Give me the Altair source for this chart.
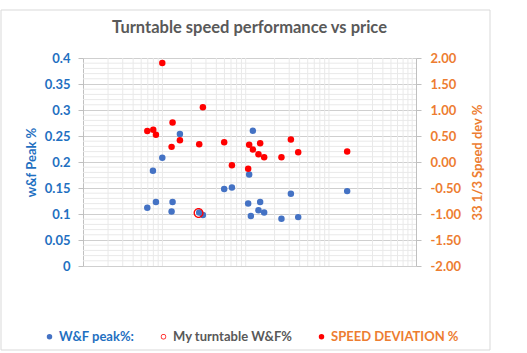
import altair as alt
import pandas as pd

# W&F peak % (left axis)
wf_price = [592, 692, 752, 896, 1191, 1159, 1459, 2489, 2755, 4965, 6150, 9640,
            9910, 10380, 10990, 13430, 12820, 15000, 24200, 31400, 38460, 149000]
wf_peak = [0.112, 0.183, 0.123, 0.208, 0.123, 0.105, 0.254, 0.103, 0.098, 0.148,
           0.151, 0.120, 0.176, 0.096, 0.260, 0.123, 0.107, 0.103, 0.091, 0.139,
           0.094, 0.144]

# Speed deviation % (right axis)
sp_price = [592, 698, 752, 896, 1191, 1159, 1459, 2489, 2755, 4965, 6150, 9640,
            9910, 10990, 13430, 12820, 15000, 24200, 31400, 38460, 149000]
sp_dev = [0.598, 0.618, 0.522, 1.903, 0.758, 0.291, 0.418, 0.341, 1.051, 0.379,
          -0.062, -0.131, 0.330, 0.239, 0.361, 0.149, 0.092, 0.092, 0.431, 0.188,
          0.201]

# My turntable
my_price = [2445]
my_wf = [0.102]

series = ["W&F peak%:", "My turntable W&F%", "SPEED DEVIATION %"]
x_ticks = [100, 1000, 10000, 100000, 1000000]
left_ticks = [0, 0.05, 0.1, 0.15, 0.2, 0.25, 0.3, 0.35, 0.4]
right_ticks = [-2, -1.5, -1, -0.5, 0, 0.5, 1, 1.5, 2]

FONT = "Lato"
BLUE_TXT = "#1F70C1"
ORANGE = "#ED7D31"
GRAY = "#595959"
MAJOR = "#CFCFCF"
MINOR = "#E9E9E9"
RING = "M-1,0A1,1 0 1,0 1,0A1,1 0 1,0 -1,0ZM-0.74,0A0.74,0.74 0 1,1 0.74,0A0.74,0.74 0 1,1 -0.74,0Z"

minor_x = [m * d for d in [100, 1000, 10000, 100000] for m in range(2, 10)]
minor_y = [round(i * 0.01, 2) for i in range(1, 40) if i % 5 != 0]

wf_df = pd.DataFrame({"price": wf_price, "v": wf_peak, "series": series[0]})
sp_df = pd.DataFrame({"price": sp_price, "v": sp_dev, "series": series[2]})
my_df = pd.DataFrame({"price": my_price, "v": my_wf, "series": series[1]})

xscale = alt.Scale(type="log", domain=[100, 1000000])
xaxis = alt.Axis(values=x_ticks, format="d", title="Turntable price EURO",
                 grid=True, gridColor=MAJOR, domainColor="#C0C0C0",
                 tickColor="#C0C0C0", tickSize=4, labelPadding=9,
                 labelFont=FONT, labelFontSize=13, labelFontWeight="bold",
                 labelColor=GRAY, titleFont=FONT, titleFontSize=13,
                 titleFontWeight="bold", titleColor=GRAY, titlePadding=11)

legend = alt.Legend(title=None, orient="none", direction="horizontal",
                    legendX=-40, legendY=272, symbolSize=30, labelOffset=3,
                    columnPadding=22, labelFont=FONT, labelFontSize=13,
                    labelFontWeight="bold",
                    labelColor={"expr": "datum.value == 'W&F peak%:' ? '#1F70C1' : datum.value == 'SPEED DEVIATION %' ? '#ED7D31' : '#595959'"})

color = alt.Color("series:N", scale=alt.Scale(domain=series, range=["#4472C4", "#FF0000", "#FF0000"]), legend=legend)
shape = alt.Shape("series:N", scale=alt.Scale(domain=series, range=["circle", RING, "circle"]), legend=legend)

frame = alt.Chart(pd.DataFrame({"a": [0]})).mark_rect(
    fillOpacity=0, stroke="#D9D9D9", strokeWidth=1
).encode(x=alt.value(-82), x2=alt.value(407), y=alt.value(-48), y2=alt.value(292))

vgrid = alt.Chart(pd.DataFrame({"price": minor_x})).mark_rule(
    color=MINOR, strokeWidth=1
).encode(x=alt.X("price:Q", scale=xscale, axis=None))

hgrid = alt.Chart(pd.DataFrame({"v": minor_y})).mark_rule(
    color=MINOR, strokeWidth=1
).encode(y=alt.Y("v:Q", scale=alt.Scale(domain=[0, 0.4]), axis=None))

blue = alt.Chart(wf_df).mark_point(filled=True, size=42, opacity=1).encode(
    x=alt.X("price:Q", scale=xscale, axis=xaxis),
    y=alt.Y("v:Q", scale=alt.Scale(domain=[0, 0.4]),
            axis=alt.Axis(orient="left", values=left_ticks, format=".2~f",
                          title="w&f Peak %", grid=True, gridColor=MAJOR,
                          domainColor="#C0C0C0", tickColor="#C0C0C0", tickSize=5,
                          labelPadding=8, labelFont=FONT, labelFontSize=13,
                          labelFontWeight="bold", labelColor=BLUE_TXT,
                          titleFont=FONT, titleFontSize=13, titleFontWeight="bold",
                          titleColor=BLUE_TXT, titlePadding=6)),
    color=color, shape=shape,
)

red = alt.Chart(sp_df).mark_point(filled=True, size=42, opacity=1).encode(
    x=alt.X("price:Q", scale=xscale, axis=xaxis),
    y=alt.Y("v:Q", scale=alt.Scale(domain=[-2, 2]),
            axis=alt.Axis(orient="right", values=right_ticks, format=".2f",
                          labelExpr="replace(datum.label, '\u2212', '-')",
                          title="33 1/3  Speed dev %", titleAngle=270, grid=False,
                          domainColor="#C0C0C0", tickColor="#C0C0C0", tickSize=5,
                          labelPadding=9, labelFont=FONT, labelFontSize=13,
                          labelFontWeight="bold", labelColor=ORANGE,
                          titleFont=FONT, titleFontSize=13, titleFontWeight="bold",
                          titleColor=ORANGE, titlePadding=24)),
    color=color, shape=shape,
)

mine = alt.Chart(my_df).mark_point(filled=True, size=100, opacity=1).encode(
    x=alt.X("price:Q", scale=xscale, axis=xaxis),
    y=alt.Y("v:Q", scale=alt.Scale(domain=[0, 0.4]), axis=None),
    color=color, shape=shape,
)

chart = alt.layer(frame, vgrid, hgrid, blue, red, mine).resolve_scale(
    y="independent"
).properties(
    width=333, height=208,
    title=alt.TitleParams("Turntable speed performance vs price", font=FONT,
                          fontSize=16.5, fontWeight="bold", color=GRAY,
                          anchor="middle", offset=-27),
    autosize=alt.AutoSizeParams(type="none"),
    padding={"left": 83, "top": 58, "right": 111, "bottom": 87},
    background="white",
).configure_view(stroke=None)

chart.save("out.html", embed_options={"renderer": "svg", "actions": False})
